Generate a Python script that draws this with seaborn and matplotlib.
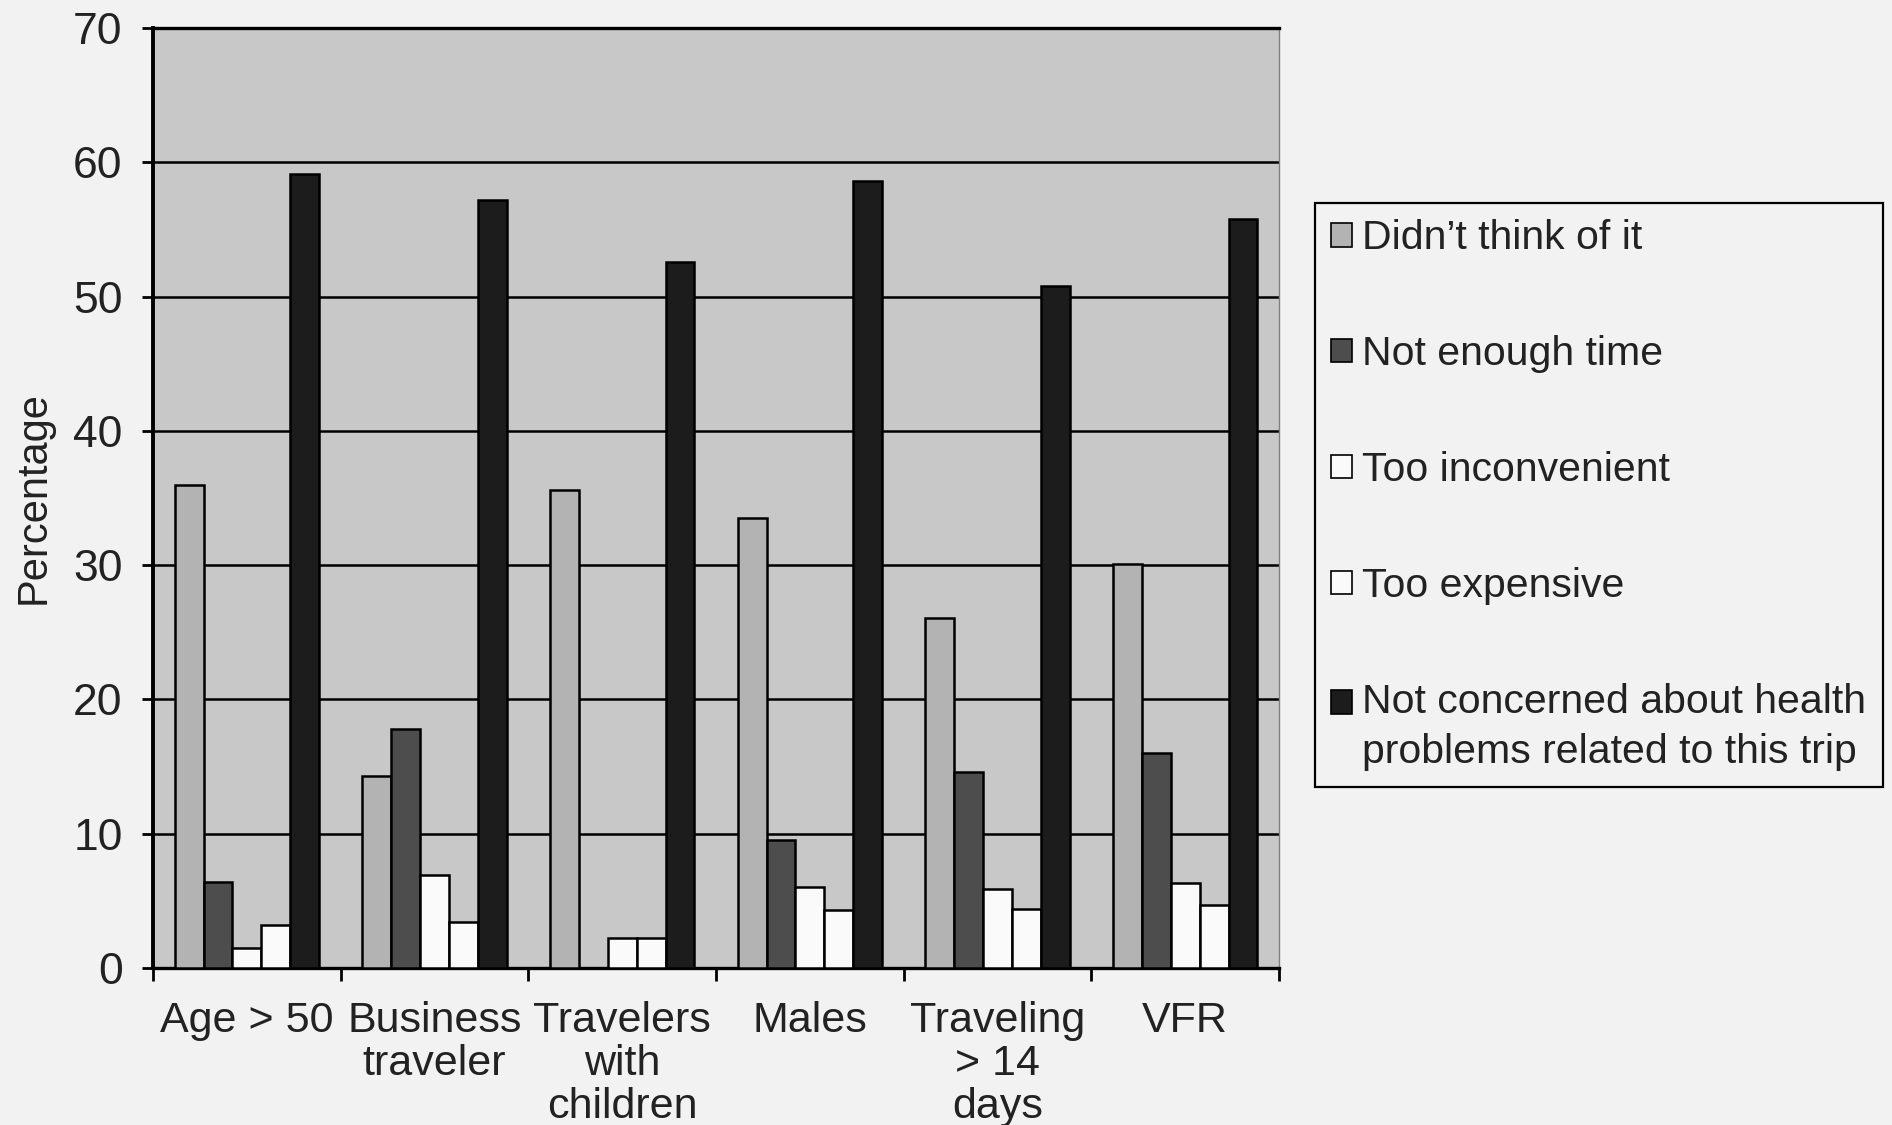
import matplotlib
matplotlib.use("Agg")
import matplotlib.pyplot as plt
from matplotlib.patches import Patch, Rectangle
from matplotlib.legend_handler import HandlerPatch
from matplotlib.ticker import FixedLocator
import pandas as pd
import seaborn as sns

# Traveller groups (x categories)
groups = ["Age > 50", "Business\ntraveler", "Travelers\nwith\nchildren",
          "Males", "Traveling\n> 14\ndays", "VFR"]

# Reasons for not seeking pre-travel health advice (hue levels)
reasons = ["Didn\u2019t think of it", "Not enough time", "Too inconvenient",
           "Too expensive",
           "Not concerned about health\nproblems related to this trip"]

# Percentages per reason, one value per group
didnt_think = [36.0, 14.3, 35.6, 33.5, 26.1, 30.1]
not_enough_time = [6.4, 17.8, 0.0, 9.5, 14.6, 16.0]
too_inconvenient = [1.5, 6.9, 2.2, 6.0, 5.9, 6.3]
too_expensive = [3.2, 3.4, 2.2, 4.3, 4.4, 4.7]
not_concerned = [59.1, 57.2, 52.6, 58.6, 50.8, 55.8]

y_ticks = [0, 10, 20, 30, 40, 50, 60, 70]

series = [didnt_think, not_enough_time, too_inconvenient, too_expensive, not_concerned]
df = pd.DataFrame({
    "group": [g for _ in reasons for g in groups],
    "reason": [r for r in reasons for _ in groups],
    "pct": [v for s in series for v in s],
})

bar_colors = ["#b3b3b3", "#4d4d4d", "#fafafa", "#fafafa", "#1c1c1c"]
palette = dict(zip(reasons, bar_colors))

sns.set_style("ticks")
plt.rcParams["font.family"] = ["Liberation Sans", "DejaVu Sans"]

page_bg = "#f2f2f2"
fig = plt.figure(figsize=(18.92, 11.25), dpi=100, facecolor=page_bg)
ax = fig.add_axes([0.0809, 0.1396, 0.676 - 0.0809, 0.975 - 0.1396])
ax.set_facecolor("#c8c8c8")

sns.barplot(data=df, x="group", y="pct", hue="reason", order=groups,
            hue_order=reasons, palette=palette, saturation=1, width=0.77,
            errorbar=None, edgecolor="black", linewidth=1.8, legend=False,
            zorder=3, ax=ax)

ax.set_ylim(0, 70)
ax.set_xlim(-0.5, len(groups) - 0.5)
ax.set_yticks(y_ticks)
ax.yaxis.grid(True, color="black", linewidth=1.8, zorder=1)
ax.set_axisbelow(True)

# Category separators as ticks below the x axis
ax.xaxis.set_minor_locator(FixedLocator([i - 0.5 for i in range(len(groups) + 1)]))
ax.tick_params(axis="x", which="major", length=0, pad=24, labelsize=31)
ax.tick_params(axis="x", which="minor", length=9, width=2, direction="out",
               color="black")
ax.tick_params(axis="y", which="major", length=8, width=2, direction="out",
               color="black", pad=14, labelsize=32, labelcolor="#222222")
for lbl in ax.get_xticklabels():
    lbl.set_linespacing(1.1)
    lbl.set_multialignment("center")
    lbl.set_color("#222222")

ax.set_xlabel("")
ax.set_ylabel("Percentage", fontsize=30, color="#222222")
ax.yaxis.set_label_coords(-0.088, 0.5)

for side in ["left", "bottom", "top"]:
    ax.spines[side].set_color("black")
    ax.spines[side].set_linewidth(2.4)
ax.spines["left"].set_linewidth(2.8)
ax.spines["right"].set_color("#808080")
ax.spines["right"].set_linewidth(1.0)


def first_line_square(legend, orig_handle, xdescent, ydescent, width, height, fontsize):
    # square key placed beside the first line of a two-line label
    return Rectangle((-xdescent, -ydescent + 0.62 * fontsize), width, height)


handles = [Patch(facecolor=c, edgecolor="black", linewidth=1.2) for c in bar_colors]
leg = fig.legend(handles, reasons, loc="upper left",
                 bbox_to_anchor=(1315 / 1892, 1 - 203 / 1125),
                 fontsize=29.5, frameon=True, fancybox=False, framealpha=1,
                 facecolor=page_bg, edgecolor="black", handlelength=0.5,
                 handleheight=0.5, handletextpad=0.25, labelspacing=1.9,
                 borderpad=0.4, borderaxespad=0,
                 handler_map={handles[-1]: HandlerPatch(patch_func=first_line_square)})
leg.get_frame().set_linewidth(1.6)
for t in leg.get_texts():
    t.set_color("#222222")
    t.set_linespacing(1.4)

fig.savefig("out.png", dpi=100, facecolor=page_bg)
